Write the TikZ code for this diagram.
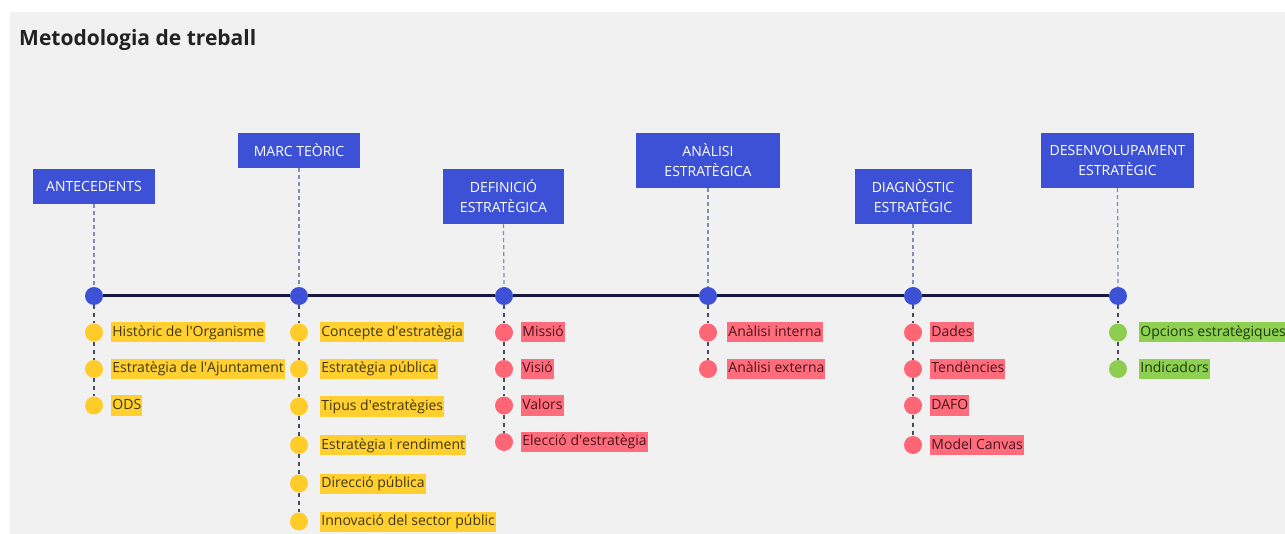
\documentclass[tikz,border=0pt]{standalone}
\usepackage{fontspec}
\setmainfont{Open Sans}
\newcommand{\ap}{\textquotesingle}
\definecolor{panel}{RGB}{241,241,241}
\definecolor{hblue}{RGB}{61,81,214}
\definecolor{axis}{RGB}{22,24,62}
\definecolor{hdashc}{RGB}{125,140,185}
\definecolor{idashc}{RGB}{70,75,100}
\definecolor{ydot}{RGB}{255,204,41}
\definecolor{yfill}{RGB}{255,208,47}
\definecolor{ytext}{RGB}{66,55,18}
\definecolor{rdot}{RGB}{255,102,117}
\definecolor{rfill}{RGB}{255,108,124}
\definecolor{rtext}{RGB}{76,20,30}
\definecolor{gdot}{RGB}{141,205,80}
\definecolor{gfill}{RGB}{143,208,82}
\definecolor{gtext}{RGB}{28,58,10}
\begin{document}
\begin{tikzpicture}[x=1pt,y=-1pt,
  hdr/.style={fill=hblue, text=white, align=center, inner sep=0pt,
    font=\fontsize{14}{20}\selectfont},
  mdot/.style={circle, fill=hblue, minimum size=18pt, inner sep=0pt},
  idot/.style={circle, minimum size=18pt, inner sep=0pt},
  lab/.style={anchor=west, inner xsep=1pt, inner ysep=3.5pt,
    text height=10.5pt, text depth=2.5pt, font=\fontsize{14}{16}\selectfont},
  ylab/.style={lab, fill=yfill, text=ytext},
  rlab/.style={lab, fill=rfill, text=rtext},
  glab/.style={lab, fill=gfill, text=gtext},
  hdash/.style={draw=hdashc, line width=1.2pt, dash pattern=on 4pt off 3pt},
  idash/.style={draw=idashc, line width=1.6pt, dash pattern=on 4pt off 4pt},
]
\useasboundingbox (0,0) rectangle (1285,534);
\fill[panel] (10,12) rectangle (1285,534);

\node[anchor=base west, font=\fontsize{21}{24}\selectfont\bfseries, text={rgb,255:red,34;green,34;blue,34}, inner sep=0pt]
  (title) at (19,46) {Metodologia de treball};

% headers
\node[hdr, minimum width=122pt, minimum height=35pt] (h1) at (94,186.5) {ANTECEDENTS};
\node[hdr, minimum width=122pt, minimum height=35pt] (h2) at (299,150.5) {MARC TEÒRIC};
\node[hdr, minimum width=121pt, minimum height=55pt] (h3) at (503.5,196.5) {DEFINICIÓ\\ESTRATÈGICA};
\node[hdr, minimum width=144pt, minimum height=55pt] (h4) at (708,160.5) {ANÀLISI\\ESTRATÈGICA};
\node[hdr, minimum width=117pt, minimum height=55pt] (h5) at (913,196.5) {DIAGNÒSTIC\\ESTRATÈGIC};
\node[hdr, minimum width=153pt, minimum height=55pt] (h6) at (1117.5,160.5) {DESENVOLUPAMENT\\ESTRATÈGIC};

% timeline stops
\foreach \i/\x in {1/94,2/299,3/504,4/708,5/913,6/1118}
  \node[mdot] (m\i) at (\x,296) {};
\draw[axis, line width=3pt] (m1) -- (m2) -- (m3) -- (m4) -- (m5) -- (m6);
\foreach \i in {1,...,6}
  \draw[hdash] (h\i.south) -- (m\i.north);

% items: ANTECEDENTS
\node[idot, fill=ydot] (a1) at (94,332.5) {};
\node[idot, fill=ydot] (a2) at (94,369) {};
\node[idot, fill=ydot] (a3) at (94,405.5) {};
\node[ylab] (a1t) at ([xshift=8pt]a1.east) {Històric de l\ap Organisme};
\node[ylab] (a2t) at ([xshift=8pt]a2.east) {Estratègia de l\ap Ajuntament};
\node[ylab] (a3t) at ([xshift=8pt]a3.east) {ODS};
\draw[idash] (m1.south) -- (a1.north);
\draw[idash] (a1.south) -- (a2.north);
\draw[idash] (a2.south) -- (a3.north);

% items: MARC TEÒRIC
\node[idot, fill=ydot] (b1) at (299,332.5) {};
\node[idot, fill=ydot] (b2) at (299,369) {};
\node[idot, fill=ydot] (b3) at (299,406.5) {};
\node[idot, fill=ydot] (b4) at (299,445) {};
\node[idot, fill=ydot] (b5) at (299,483.5) {};
\node[idot, fill=ydot] (b6) at (299,521.5) {};
\node[ylab] (b1t) at ([xshift=12pt]b1.east) {Concepte d\ap estratègia};
\node[ylab] (b2t) at ([xshift=12pt]b2.east) {Estratègia pública};
\node[ylab] (b3t) at ([xshift=12pt]b3.east) {Tipus d\ap estratègies};
\node[ylab] (b4t) at ([xshift=12pt]b4.east) {Estratègia i rendiment};
\node[ylab] (b5t) at ([xshift=12pt]b5.east) {Direcció pública};
\node[ylab] (b6t) at ([xshift=12pt]b6.east) {Innovació del sector públic};
\draw[idash] (m2.south) -- (b1.north);
\draw[idash] (b1.south) -- (b2.north);
\draw[idash] (b2.south) -- (b3.north);
\draw[idash] (b3.south) -- (b4.north);
\draw[idash] (b4.south) -- (b5.north);
\draw[idash] (b5.south) -- (b6.north);

% items: DEFINICIÓ ESTRATÈGICA
\node[idot, fill=rdot] (c1) at (504,332.5) {};
\node[idot, fill=rdot] (c2) at (504,369) {};
\node[idot, fill=rdot] (c3) at (504,405.5) {};
\node[idot, fill=rdot] (c4) at (504,442) {};
\node[rlab] (c1t) at ([xshift=8pt]c1.east) {Missió};
\node[rlab] (c2t) at ([xshift=8pt]c2.east) {Visió};
\node[rlab] (c3t) at ([xshift=8pt]c3.east) {Valors};
\node[rlab] (c4t) at ([xshift=8pt]c4.east) {Elecció d\ap estratègia};
\draw[idash] (m3.south) -- (c1.north);
\draw[idash] (c1.south) -- (c2.north);
\draw[idash] (c2.south) -- (c3.north);
\draw[idash] (c3.south) -- (c4.north);

% items: ANÀLISI ESTRATÈGICA
\node[idot, fill=rdot] (d1) at (708,332.5) {};
\node[idot, fill=rdot] (d2) at (708,369) {};
\node[rlab] (d1t) at ([xshift=10pt]d1.east) {Anàlisi interna};
\node[rlab] (d2t) at ([xshift=10pt]d2.east) {Anàlisi externa};
\draw[idash] (m4.south) -- (d1.north);
\draw[idash] (d1.south) -- (d2.north);

% items: DIAGNÒSTIC ESTRATÈGIC
\node[idot, fill=rdot] (e1) at (913,332.5) {};
\node[idot, fill=rdot] (e2) at (913,369) {};
\node[idot, fill=rdot] (e3) at (913,405.5) {};
\node[idot, fill=rdot] (e4) at (913,445) {};
\node[rlab] (e1t) at ([xshift=8pt]e1.east) {Dades};
\node[rlab] (e2t) at ([xshift=8pt]e2.east) {Tendències};
\node[rlab] (e3t) at ([xshift=8pt]e3.east) {DAFO};
\node[rlab] (e4t) at ([xshift=8pt]e4.east) {Model Canvas};
\draw[idash] (m5.south) -- (e1.north);
\draw[idash] (e1.south) -- (e2.north);
\draw[idash] (e2.south) -- (e3.north);
\draw[idash] (e3.south) -- (e4.north);

% items: DESENVOLUPAMENT ESTRATÈGIC
\node[idot, fill=gdot] (f1) at (1118,332.5) {};
\node[idot, fill=gdot] (f2) at (1118,369) {};
\node[glab] (f1t) at ([xshift=12pt]f1.east) {Opcions estratègiques};
\node[glab] (f2t) at ([xshift=12pt]f2.east) {Indicadors};
\draw[idash] (m6.south) -- (f1.north);
\draw[idash] (f1.south) -- (f2.north);
\end{tikzpicture}
\end{document}
